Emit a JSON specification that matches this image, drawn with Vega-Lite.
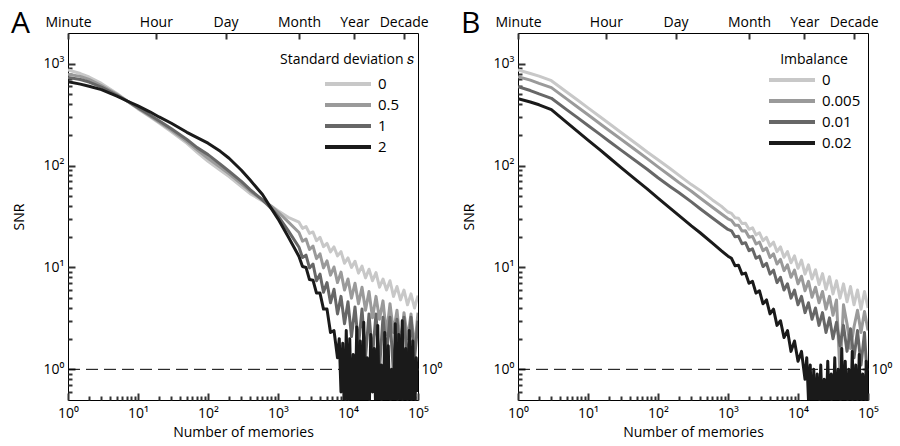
{
"$schema": "https://vega.github.io/schema/vega-lite/v6.json",
"padding": {"left": 10, "top": 8, "right": 5, "bottom": 5},
"spacing": 100,
"bounds": "flush",
"config": {
 "font": "Open Sans",
 "view": {"stroke": "#000", "strokeWidth": 1},
 "axis": {"domain": false, "grid": false, "labelFont": "Open Sans", "labelFontSize": 14, "labelColor": "#000", "titleFont": "Open Sans", "titleFontSize": 14, "titleFontWeight": "normal", "titleColor": "#000"},
 "legend": {"labelFont": "Open Sans", "labelFontSize": 15, "titleFont": "Open Sans", "titleFontSize": 14, "titleFontWeight": "normal", "labelColor": "#000", "titleColor": "#000", "symbolType": "stroke", "symbolStrokeWidth": 4, "symbolSize": 2116, "rowPadding": 3, "clipHeight": 18, "labelOffset": 5},
 "title": {"font": "Open Sans", "fontSize": 30, "fontWeight": "normal", "color": "#000"}
},
"resolve": {"scale": {"color": "independent"}, "legend": {"color": "independent"}},
"datasets": {
"A": [
{"s":"0","n":1,"snr":870},{"s":"0","n":1.5,"snr":800},{"s":"0","n":2,"snr":740},{"s":"0","n":3,"snr":640},{"s":"0","n":5,"snr":510},{"s":"0","n":7,"snr":430},{"s":"0","n":10,"snr":360},{"s":"0","n":15,"snr":300},{"s":"0","n":20,"snr":262},{"s":"0","n":30,"snr":215},{"s":"0","n":50,"snr":165},{"s":"0","n":70,"snr":135},{"s":"0","n":100,"snr":110},{"s":"0","n":150,"snr":90},{"s":"0","n":200,"snr":78},{"s":"0","n":300,"snr":62},{"s":"0","n":400,"snr":53},{"s":"0","n":600,"snr":45},{"s":"0","n":800,"snr":40},{"s":"0","n":1000,"snr":36},{"s":"0","n":1400,"snr":31},
{"s":"0","n":1995,"snr":27.8},{"s":"0","n":2239,"snr":24.2},{"s":"0","n":2512,"snr":25.2},{"s":"0","n":2818,"snr":21.6},{"s":"0","n":3162,"snr":22.3},{"s":"0","n":3548,"snr":18.3},{"s":"0","n":3981,"snr":19.8},{"s":"0","n":4467,"snr":16.0},{"s":"0","n":5012,"snr":17.2},{"s":"0","n":5623,"snr":14.2},{"s":"0","n":6310,"snr":15.9},{"s":"0","n":7079,"snr":13.0},{"s":"0","n":7943,"snr":14.3},{"s":"0","n":8913,"snr":11.0},{"s":"0","n":10000,"snr":12.4},{"s":"0","n":11220,"snr":10.0},{"s":"0","n":12589,"snr":11.5},{"s":"0","n":14125,"snr":8.8},{"s":"0","n":15849,"snr":10.3},{"s":"0","n":17783,"snr":7.9},{"s":"0","n":19953,"snr":9.6},{"s":"0","n":22387,"snr":7.4},{"s":"0","n":25119,"snr":8.9},{"s":"0","n":28184,"snr":6.4},{"s":"0","n":31623,"snr":7.7},{"s":"0","n":35481,"snr":6.0},{"s":"0","n":39811,"snr":7.4},{"s":"0","n":44668,"snr":5.2},{"s":"0","n":50119,"snr":6.5},{"s":"0","n":56234,"snr":4.8},{"s":"0","n":63096,"snr":6.0},{"s":"0","n":70795,"snr":4.3},{"s":"0","n":79433,"snr":5.5},{"s":"0","n":89125,"snr":4.0},{"s":"0","n":100000,"snr":5.3},
{"s":"0.5","n":1,"snr":790},{"s":"0.5","n":1.5,"snr":750},{"s":"0.5","n":2,"snr":700},{"s":"0.5","n":3,"snr":610},{"s":"0.5","n":5,"snr":500},{"s":"0.5","n":7,"snr":430},{"s":"0.5","n":10,"snr":365},{"s":"0.5","n":15,"snr":305},{"s":"0.5","n":20,"snr":268},{"s":"0.5","n":30,"snr":222},{"s":"0.5","n":50,"snr":172},{"s":"0.5","n":70,"snr":143},{"s":"0.5","n":100,"snr":118},{"s":"0.5","n":150,"snr":96},{"s":"0.5","n":200,"snr":83},{"s":"0.5","n":300,"snr":66},{"s":"0.5","n":400,"snr":56},{"s":"0.5","n":600,"snr":46},{"s":"0.5","n":800,"snr":40},{"s":"0.5","n":1000,"snr":35},{"s":"0.5","n":1400,"snr":28},
{"s":"0.5","n":1995,"snr":22},{"s":"0.5","n":2239,"snr":18.1},{"s":"0.5","n":2512,"snr":19.0},{"s":"0.5","n":2818,"snr":15.0},{"s":"0.5","n":3162,"snr":16.2},{"s":"0.5","n":3548,"snr":12.2},{"s":"0.5","n":3981,"snr":13.6},{"s":"0.5","n":4467,"snr":9.9},{"s":"0.5","n":5012,"snr":11.6},{"s":"0.5","n":5623,"snr":8.4},{"s":"0.5","n":6310,"snr":10.1},{"s":"0.5","n":7079,"snr":7.1},{"s":"0.5","n":7943,"snr":9.0},{"s":"0.5","n":8913,"snr":6.0},{"s":"0.5","n":10000,"snr":7.7},{"s":"0.5","n":11220,"snr":5.0},{"s":"0.5","n":12589,"snr":7.0},{"s":"0.5","n":14125,"snr":4.4},{"s":"0.5","n":15849,"snr":6.4},{"s":"0.5","n":17783,"snr":3.8},{"s":"0.5","n":19953,"snr":5.8},{"s":"0.5","n":22387,"snr":3.2},{"s":"0.5","n":25119,"snr":5.2},{"s":"0.5","n":28184,"snr":3.1},{"s":"0.5","n":31623,"snr":4.7},{"s":"0.5","n":35481,"snr":2.2},{"s":"0.5","n":39811,"snr":4.4},{"s":"0.5","n":44668,"snr":2.3},{"s":"0.5","n":50119,"snr":3.8},{"s":"0.5","n":56234,"snr":1.65},{"s":"0.5","n":63096,"snr":3.6},{"s":"0.5","n":70795,"snr":2.0},{"s":"0.5","n":79433,"snr":3.5},{"s":"0.5","n":89125,"snr":1.6},{"s":"0.5","n":100000,"snr":3.6},
{"s":"1","n":1,"snr":730},{"s":"1","n":1.5,"snr":700},{"s":"1","n":2,"snr":660},{"s":"1","n":3,"snr":590},{"s":"1","n":5,"snr":490},{"s":"1","n":7,"snr":430},{"s":"1","n":10,"snr":370},{"s":"1","n":15,"snr":312},{"s":"1","n":20,"snr":275},{"s":"1","n":30,"snr":230},{"s":"1","n":50,"snr":180},{"s":"1","n":70,"snr":150},{"s":"1","n":100,"snr":128},{"s":"1","n":150,"snr":103},{"s":"1","n":200,"snr":88},{"s":"1","n":300,"snr":70},{"s":"1","n":400,"snr":58},{"s":"1","n":600,"snr":46},{"s":"1","n":800,"snr":38},{"s":"1","n":1000,"snr":32},{"s":"1","n":1400,"snr":23},
{"s":"1","n":1995,"snr":15.8},{"s":"1","n":2239,"snr":12.5},{"s":"1","n":2512,"snr":13.2},{"s":"1","n":2818,"snr":9.9},{"s":"1","n":3162,"snr":10.8},{"s":"1","n":3548,"snr":7.4},{"s":"1","n":3981,"snr":8.6},{"s":"1","n":4467,"snr":5.7},{"s":"1","n":5012,"snr":7.1},{"s":"1","n":5623,"snr":4.5},{"s":"1","n":6310,"snr":6.1},{"s":"1","n":7079,"snr":3.5},{"s":"1","n":7943,"snr":5.2},{"s":"1","n":8913,"snr":2.8},{"s":"1","n":10000,"snr":4.6},{"s":"1","n":11220,"snr":2.1},{"s":"1","n":12589,"snr":4.1},{"s":"1","n":14125,"snr":1.7},{"s":"1","n":15849,"snr":3.9},{"s":"1","n":17783,"snr":1.3},{"s":"1","n":19953,"snr":3.5},{"s":"1","n":22387,"snr":1.35},{"s":"1","n":25119,"snr":3.5},{"s":"1","n":28184,"snr":1.0},{"s":"1","n":31623,"snr":3.25},{"s":"1","n":35481,"snr":1.4},{"s":"1","n":39811,"snr":3.25},{"s":"1","n":44668,"snr":0.9},{"s":"1","n":50119,"snr":3.1},{"s":"1","n":56234,"snr":1.25},{"s":"1","n":63096,"snr":3.25},{"s":"1","n":70795,"snr":1.1},{"s":"1","n":79433,"snr":3.25},{"s":"1","n":89125,"snr":1.25},{"s":"1","n":100000,"snr":3.0},
{"s":"2","n":1,"snr":666},{"s":"2","n":1.5,"snr":630},{"s":"2","n":2,"snr":600},{"s":"2","n":3,"snr":556},{"s":"2","n":5,"snr":480},{"s":"2","n":7,"snr":430},{"s":"2","n":10,"snr":385},{"s":"2","n":15,"snr":335},{"s":"2","n":20,"snr":300},{"s":"2","n":30,"snr":260},{"s":"2","n":50,"snr":212},{"s":"2","n":70,"snr":188},{"s":"2","n":100,"snr":166},{"s":"2","n":150,"snr":138},{"s":"2","n":200,"snr":118},{"s":"2","n":300,"snr":90},{"s":"2","n":400,"snr":72},{"s":"2","n":600,"snr":52},{"s":"2","n":800,"snr":38},{"s":"2","n":1000,"snr":30},{"s":"2","n":1400,"snr":20},
{"s":"2","n":1995,"snr":12.8},{"s":"2","n":2239,"snr":10.2},{"s":"2","n":2512,"snr":10.0},{"s":"2","n":2818,"snr":7.6},{"s":"2","n":3162,"snr":7.5},{"s":"2","n":3548,"snr":5.6},{"s":"2","n":3981,"snr":5.6},{"s":"2","n":4467,"snr":3.9},{"s":"2","n":5012,"snr":3.9},{"s":"2","n":5623,"snr":2.3},{"s":"2","n":6310,"snr":2.4},
{"s":"2","n":7079,"snr":1.3},{"s":"2","n":7499,"snr":2.0},{"s":"2","n":7943,"snr":0.6},{"s":"2","n":8414,"snr":1.8},{"s":"2","n":8913,"snr":0.3},{"s":"2","n":9441,"snr":2.4},{"s":"2","n":10000,"snr":0.5},{"s":"2","n":10593,"snr":2.0},{"s":"2","n":11220,"snr":0.3},{"s":"2","n":11885,"snr":1.4},{"s":"2","n":12589,"snr":0.3},{"s":"2","n":13335,"snr":2.6},{"s":"2","n":14125,"snr":0.4},{"s":"2","n":14962,"snr":1.9},{"s":"2","n":15849,"snr":0.3},{"s":"2","n":16788,"snr":2.9},{"s":"2","n":17783,"snr":0.3},{"s":"2","n":18836,"snr":1.3},{"s":"2","n":19953,"snr":0.3},{"s":"2","n":21135,"snr":2.2},{"s":"2","n":22387,"snr":0.6},{"s":"2","n":23714,"snr":1.6},{"s":"2","n":25119,"snr":0.3},{"s":"2","n":26607,"snr":2.7},{"s":"2","n":28184,"snr":0.3},{"s":"2","n":29854,"snr":1.1},{"s":"2","n":31623,"snr":0.3},{"s":"2","n":33497,"snr":2.3},{"s":"2","n":35481,"snr":0.4},{"s":"2","n":37584,"snr":1.7},{"s":"2","n":39811,"snr":0.3},{"s":"2","n":42170,"snr":1.0},{"s":"2","n":44668,"snr":0.3},{"s":"2","n":47315,"snr":2.8},{"s":"2","n":50119,"snr":0.3},{"s":"2","n":53088,"snr":2.2},{"s":"2","n":56234,"snr":0.5},{"s":"2","n":59566,"snr":3.0},{"s":"2","n":63096,"snr":0.3},{"s":"2","n":66834,"snr":1.6},{"s":"2","n":70795,"snr":0.3},{"s":"2","n":74989,"snr":2.4},{"s":"2","n":79433,"snr":0.4},{"s":"2","n":84140,"snr":1.9},{"s":"2","n":89125,"snr":0.3},{"s":"2","n":94406,"snr":1.3},{"s":"2","n":100000,"snr":0.6}
],
"B": [
{"s":"0","n":1,"snr":870},{"s":"0","n":1.5,"snr":800},{"s":"0","n":2,"snr":755},{"s":"0","n":3,"snr":681},{"s":"0","n":5,"snr":525},{"s":"0","n":7,"snr":442},{"s":"0","n":10,"snr":368},{"s":"0","n":15,"snr":300},{"s":"0","n":20,"snr":259},{"s":"0","n":30,"snr":210},{"s":"0","n":50,"snr":162},{"s":"0","n":70,"snr":136},{"s":"0","n":100,"snr":114},{"s":"0","n":150,"snr":93},{"s":"0","n":200,"snr":80},{"s":"0","n":300,"snr":65},{"s":"0","n":400,"snr":57},{"s":"0","n":600,"snr":46},{"s":"0","n":800,"snr":40},{"s":"0","n":1000,"snr":35},
{"s":"0","n":1122,"snr":33.9},{"s":"0","n":1259,"snr":30.7},{"s":"0","n":1413,"snr":30.4},{"s":"0","n":1585,"snr":27.0},{"s":"0","n":1778,"snr":27.2},{"s":"0","n":1995,"snr":23.7},{"s":"0","n":2239,"snr":24.5},{"s":"0","n":2512,"snr":20.9},{"s":"0","n":2818,"snr":21.9},{"s":"0","n":3162,"snr":18.3},{"s":"0","n":3548,"snr":19.7},{"s":"0","n":3981,"snr":16.2},{"s":"0","n":4467,"snr":17.7},{"s":"0","n":5012,"snr":14.3},{"s":"0","n":5623,"snr":15.9},{"s":"0","n":6310,"snr":12.6},{"s":"0","n":7079,"snr":14.3},{"s":"0","n":7943,"snr":11.1},{"s":"0","n":8913,"snr":13.0},{"s":"0","n":10000,"snr":9.8},{"s":"0","n":11220,"snr":11.8},{"s":"0","n":12589,"snr":8.6},{"s":"0","n":14125,"snr":10.6},{"s":"0","n":15849,"snr":7.7},{"s":"0","n":17783,"snr":9.5},{"s":"0","n":19953,"snr":6.8},{"s":"0","n":22387,"snr":8.7},{"s":"0","n":25119,"snr":6.1},{"s":"0","n":28184,"snr":8.1},{"s":"0","n":31623,"snr":5.5},{"s":"0","n":35481,"snr":7.4},{"s":"0","n":39811,"snr":5.0},{"s":"0","n":44668,"snr":6.9},{"s":"0","n":50119,"snr":4.6},{"s":"0","n":56234,"snr":6.5},{"s":"0","n":63096,"snr":4.3},{"s":"0","n":70795,"snr":6.0},{"s":"0","n":79433,"snr":3.9},{"s":"0","n":89125,"snr":5.8},{"s":"0","n":100000,"snr":4.0},
{"s":"0.005","n":1,"snr":746},{"s":"0.005","n":1.5,"snr":690},{"s":"0.005","n":2,"snr":640},{"s":"0.005","n":3,"snr":582},{"s":"0.005","n":5,"snr":449},{"s":"0.005","n":7,"snr":378},{"s":"0.005","n":10,"snr":315},{"s":"0.005","n":15,"snr":256},{"s":"0.005","n":20,"snr":221},{"s":"0.005","n":30,"snr":180},{"s":"0.005","n":50,"snr":139},{"s":"0.005","n":70,"snr":117},{"s":"0.005","n":100,"snr":97},{"s":"0.005","n":150,"snr":79},{"s":"0.005","n":200,"snr":68},{"s":"0.005","n":300,"snr":56},{"s":"0.005","n":400,"snr":48},{"s":"0.005","n":600,"snr":39},{"s":"0.005","n":800,"snr":33.6},{"s":"0.005","n":1000,"snr":30},
{"s":"0.005","n":1122,"snr":29.0},{"s":"0.005","n":1259,"snr":26.0},{"s":"0.005","n":1413,"snr":26.0},{"s":"0.005","n":1585,"snr":22.8},{"s":"0.005","n":1778,"snr":22.9},{"s":"0.005","n":1995,"snr":19.8},{"s":"0.005","n":2239,"snr":20.2},{"s":"0.005","n":2512,"snr":17.0},{"s":"0.005","n":2818,"snr":17.7},{"s":"0.005","n":3162,"snr":14.6},{"s":"0.005","n":3548,"snr":15.5},{"s":"0.005","n":3981,"snr":12.5},{"s":"0.005","n":4467,"snr":13.6},{"s":"0.005","n":5012,"snr":10.8},{"s":"0.005","n":5623,"snr":12.0},{"s":"0.005","n":6310,"snr":9.3},{"s":"0.005","n":7079,"snr":10.6},{"s":"0.005","n":7943,"snr":8.0},{"s":"0.005","n":8913,"snr":9.4},{"s":"0.005","n":10000,"snr":6.9},{"s":"0.005","n":11220,"snr":8.2},{"s":"0.005","n":12589,"snr":5.9},{"s":"0.005","n":14125,"snr":7.3},{"s":"0.005","n":15849,"snr":5.1},{"s":"0.005","n":17783,"snr":6.4},{"s":"0.005","n":19953,"snr":4.5},{"s":"0.005","n":22387,"snr":5.8},{"s":"0.005","n":25119,"snr":3.9},{"s":"0.005","n":28184,"snr":5.2},{"s":"0.005","n":31623,"snr":3.4},{"s":"0.005","n":35481,"snr":4.8},{"s":"0.005","n":39811,"snr":0.9},{"s":"0.005","n":44668,"snr":4.3},{"s":"0.005","n":50119,"snr":2.8},{"s":"0.005","n":56234,"snr":1.6},{"s":"0.005","n":63096,"snr":2.6},{"s":"0.005","n":70795,"snr":3.8},{"s":"0.005","n":79433,"snr":2.3},{"s":"0.005","n":89125,"snr":3.7},{"s":"0.005","n":100000,"snr":2.4},
{"s":"0.01","n":1,"snr":595},{"s":"0.01","n":1.5,"snr":545},{"s":"0.01","n":2,"snr":505},{"s":"0.01","n":3,"snr":457},{"s":"0.01","n":5,"snr":352},{"s":"0.01","n":7,"snr":297},{"s":"0.01","n":10,"snr":247},{"s":"0.01","n":15,"snr":201},{"s":"0.01","n":20,"snr":173},{"s":"0.01","n":30,"snr":141},{"s":"0.01","n":50,"snr":109},{"s":"0.01","n":70,"snr":92},{"s":"0.01","n":100,"snr":76},{"s":"0.01","n":150,"snr":62},{"s":"0.01","n":200,"snr":54},{"s":"0.01","n":300,"snr":44},{"s":"0.01","n":400,"snr":37.7},{"s":"0.01","n":600,"snr":30.6},{"s":"0.01","n":800,"snr":26.4},{"s":"0.01","n":1000,"snr":23.6},
{"s":"0.01","n":1122,"snr":22.9},{"s":"0.01","n":1259,"snr":20.0},{"s":"0.01","n":1413,"snr":20.2},{"s":"0.01","n":1585,"snr":17.1},{"s":"0.01","n":1778,"snr":17.5},{"s":"0.01","n":1995,"snr":14.6},{"s":"0.01","n":2239,"snr":15.2},{"s":"0.01","n":2512,"snr":12.3},{"s":"0.01","n":2818,"snr":12.9},{"s":"0.01","n":3162,"snr":10.2},{"s":"0.01","n":3548,"snr":11.0},{"s":"0.01","n":3981,"snr":8.6},{"s":"0.01","n":4467,"snr":9.4},{"s":"0.01","n":5012,"snr":7.1},{"s":"0.01","n":5623,"snr":8.0},{"s":"0.01","n":6310,"snr":6.0},{"s":"0.01","n":7079,"snr":6.9},{"s":"0.01","n":7943,"snr":5.0},{"s":"0.01","n":8913,"snr":6.0},{"s":"0.01","n":10000,"snr":4.3},{"s":"0.01","n":11220,"snr":5.2},{"s":"0.01","n":12589,"snr":3.6},{"s":"0.01","n":14125,"snr":4.5},{"s":"0.01","n":15849,"snr":3.1},{"s":"0.01","n":17783,"snr":4.0},{"s":"0.01","n":19953,"snr":2.7},{"s":"0.01","n":22387,"snr":3.6},{"s":"0.01","n":25119,"snr":2.3},{"s":"0.01","n":28184,"snr":3.2},{"s":"0.01","n":31623,"snr":2.0},{"s":"0.01","n":35481,"snr":2.9},{"s":"0.01","n":39811,"snr":1.7},{"s":"0.01","n":44668,"snr":2.7},{"s":"0.01","n":50119,"snr":1.5},{"s":"0.01","n":56234,"snr":2.5},{"s":"0.01","n":63096,"snr":1.3},{"s":"0.01","n":70795,"snr":2.4},{"s":"0.01","n":79433,"snr":1.1},{"s":"0.01","n":89125,"snr":2.3},{"s":"0.01","n":100000,"snr":0.6},
{"s":"0.02","n":1,"snr":454},{"s":"0.02","n":1.5,"snr":420},{"s":"0.02","n":2,"snr":395},{"s":"0.02","n":3,"snr":354},{"s":"0.02","n":5,"snr":264},{"s":"0.02","n":7,"snr":218},{"s":"0.02","n":10,"snr":178},{"s":"0.02","n":15,"snr":142},{"s":"0.02","n":20,"snr":120},{"s":"0.02","n":30,"snr":95},{"s":"0.02","n":50,"snr":71},{"s":"0.02","n":70,"snr":59},{"s":"0.02","n":100,"snr":48},{"s":"0.02","n":150,"snr":38},{"s":"0.02","n":200,"snr":32.3},{"s":"0.02","n":300,"snr":25.6},{"s":"0.02","n":400,"snr":21.9},{"s":"0.02","n":600,"snr":17.3},{"s":"0.02","n":800,"snr":14.6},{"s":"0.02","n":1000,"snr":12.9},
{"s":"0.02","n":1122,"snr":12.3},{"s":"0.02","n":1259,"snr":10.4},{"s":"0.02","n":1413,"snr":10.5},{"s":"0.02","n":1585,"snr":8.6},{"s":"0.02","n":1778,"snr":8.8},{"s":"0.02","n":1995,"snr":7.0},{"s":"0.02","n":2239,"snr":7.3},{"s":"0.02","n":2512,"snr":5.6},{"s":"0.02","n":2818,"snr":5.9},{"s":"0.02","n":3162,"snr":4.4},{"s":"0.02","n":3548,"snr":4.8},{"s":"0.02","n":3981,"snr":3.5},{"s":"0.02","n":4467,"snr":3.9},{"s":"0.02","n":5012,"snr":2.7},{"s":"0.02","n":5623,"snr":3.0},{"s":"0.02","n":6310,"snr":2.05},{"s":"0.02","n":7079,"snr":2.4},{"s":"0.02","n":7943,"snr":1.5},{"s":"0.02","n":8913,"snr":1.9},{"s":"0.02","n":10000,"snr":1.2},{"s":"0.02","n":11220,"snr":1.5},
{"s":"0.02","n":12589,"snr":0.8},{"s":"0.02","n":13335,"snr":1.3},{"s":"0.02","n":14125,"snr":0.5},{"s":"0.02","n":14962,"snr":1.1},{"s":"0.02","n":15849,"snr":0.3},{"s":"0.02","n":16788,"snr":1.0},{"s":"0.02","n":17783,"snr":0.35},{"s":"0.02","n":18836,"snr":0.9},{"s":"0.02","n":19953,"snr":0.3},{"s":"0.02","n":21135,"snr":1.1},{"s":"0.02","n":22387,"snr":0.3},{"s":"0.02","n":23714,"snr":0.8},{"s":"0.02","n":25119,"snr":0.3},{"s":"0.02","n":26607,"snr":1.2},{"s":"0.02","n":28184,"snr":0.4},{"s":"0.02","n":29854,"snr":0.9},{"s":"0.02","n":31623,"snr":0.3},{"s":"0.02","n":33497,"snr":1.3},{"s":"0.02","n":35481,"snr":0.3},{"s":"0.02","n":37584,"snr":1.0},{"s":"0.02","n":39811,"snr":0.3},{"s":"0.02","n":42170,"snr":1.6},{"s":"0.02","n":44668,"snr":0.3},{"s":"0.02","n":47315,"snr":1.2},{"s":"0.02","n":50119,"snr":0.3},{"s":"0.02","n":53088,"snr":1.0},{"s":"0.02","n":56234,"snr":0.3},{"s":"0.02","n":59566,"snr":1.5},{"s":"0.02","n":63096,"snr":0.3},{"s":"0.02","n":66834,"snr":1.1},{"s":"0.02","n":70795,"snr":0.3},{"s":"0.02","n":74989,"snr":1.4},{"s":"0.02","n":79433,"snr":0.3},{"s":"0.02","n":84140,"snr":0.9},{"s":"0.02","n":89125,"snr":0.3},{"s":"0.02","n":94406,"snr":1.2},{"s":"0.02","n":100000,"snr":0.4}
]
},
"hconcat": [
{
 "width": 350, "height": 367,
 "title": {"text": "A", "anchor": "start", "frame": "group", "dx": -57, "dy": 28},
 "layer": [
  {
   "data": {"values": [{}]},
   "mark": {"type": "rule", "strokeDash": [12, 6], "strokeWidth": 1, "color": "#000"},
   "encoding": {
    "x": {"datum": 1, "type": "quantitative", "scale": {"type": "log", "domain": [1, 100000]},
      "axis": {"orient": "top", "title": null, "values": [1, 18, 178, 2000, 12300, 62400], "labelExpr": "datum.value == 1 ? 'Minute' : datum.value == 18 ? 'Hour' : datum.value == 178 ? 'Day' : datum.value == 2000 ? 'Month' : datum.value == 12300 ? 'Year' : 'Decade'", "ticks": true, "tickColor": "#333", "tickWidth": 2, "tickSize": 6, "offset": -6, "labelPadding": 4, "labelFlush": false, "labelOverlap": false}},
    "x2": {"datum": 100000},
    "y": {"datum": 1, "type": "quantitative", "scale": {"type": "log", "domain": [0.5, 2000]},
      "axis": {"orient": "right", "title": null, "values": [1], "labelExpr": "'10⁰'", "ticks": true, "tickColor": "#333", "tickWidth": 2, "tickSize": 6, "offset": -6, "labelPadding": 3}}
   }
  },
  {
   "data": {"name": "A"},
   "mark": {"type": "line", "strokeWidth": 3, "clip": true, "strokeJoin": "round"},
   "encoding": {
    "x": {"field": "n", "type": "quantitative", "scale": {"type": "log", "domain": [1, 100000]},
      "axis": {"orient": "bottom", "title": "Number of memories", "values": [1,10,100,1000,10000,100000],
        "labelExpr": "'10' + ['⁰','¹','²','³','⁴','⁵'][indexof([1,10,100,1000,10000,100000], datum.value)]",
        "ticks": true, "tickColor": "#333", "tickWidth": 2, "tickSize": 7, "offset": -7, "labelPadding": 6, "labelFlush": false, "labelOverlap": false, "titlePadding": 5}},
    "y": {"field": "snr", "type": "quantitative", "scale": {"type": "log", "domain": [0.5, 2000]},
      "axis": {"orient": "left", "title": "SNR", "values": [1,10,100,1000],
        "labelExpr": "'10' + ['⁰','¹','²','³'][indexof([1,10,100,1000], datum.value)]",
        "ticks": true, "tickColor": "#333", "tickWidth": 2, "tickSize": 7, "offset": -7, "labelPadding": 4, "labelOverlap": false, "titlePadding": 17}},
    "color": {"field": "s", "type": "nominal", "scale": {"domain": ["0", "0.5", "1", "2"], "range": ["#c8c8c8", "#9a9a9a", "#676767", "#1a1a1a"]},
      "legend": {"title": "Standard deviation 𝑠", "orient": "none", "legendX": 212, "legendY": 20, "symbolOffset": 43, "titlePadding": 8}}
   }
  },
  {
   "data": {"values": [{}]},
   "mark": {"type": "point", "opacity": 0},
   "encoding": {
    "x": {"datum": 1, "type": "quantitative", "scale": {"type": "log", "domain": [1, 100000]},
      "axis": {"orient": "bottom", "title": null, "labels": false, "ticks": true, "tickColor": "#333", "tickWidth": 2, "values": [2,3,4,5,6,7,8,9,20,30,40,50,60,70,80,90,200,300,400,500,600,700,800,900,2000,3000,4000,5000,6000,7000,8000,9000,20000,30000,40000,50000,60000,70000,80000,90000], "tickSize": 4, "offset": -4}},
    "y": {"datum": 1, "type": "quantitative", "scale": {"type": "log", "domain": [0.5, 2000]},
      "axis": {"orient": "left", "title": null, "labels": false, "ticks": true, "tickColor": "#333", "tickWidth": 2, "values": [0.6,0.7,0.8,0.9,2,3,4,5,6,7,8,9,20,30,40,50,60,70,80,90,200,300,400,500,600,700,800,900], "tickSize": 4, "offset": -4}}
   }
  }
 ],
 "resolve": {"scale": {"x": "independent", "y": "independent"}, "axis": {"x": "independent", "y": "independent"}}
},
{
 "width": 350, "height": 367,
 "title": {"text": "B", "anchor": "start", "frame": "group", "dx": -57, "dy": 28},
 "layer": [
  {
   "data": {"values": [{}]},
   "mark": {"type": "rule", "strokeDash": [12, 6], "strokeWidth": 1, "color": "#000"},
   "encoding": {
    "x": {"datum": 1, "type": "quantitative", "scale": {"type": "log", "domain": [1, 100000]},
      "axis": {"orient": "top", "title": null, "values": [1, 18, 178, 2000, 12300, 62400], "labelExpr": "datum.value == 1 ? 'Minute' : datum.value == 18 ? 'Hour' : datum.value == 178 ? 'Day' : datum.value == 2000 ? 'Month' : datum.value == 12300 ? 'Year' : 'Decade'", "ticks": true, "tickColor": "#333", "tickWidth": 2, "tickSize": 6, "offset": -6, "labelPadding": 4, "labelFlush": false, "labelOverlap": false}},
    "x2": {"datum": 100000},
    "y": {"datum": 1, "type": "quantitative", "scale": {"type": "log", "domain": [0.5, 2000]},
      "axis": {"orient": "right", "title": null, "values": [1], "labelExpr": "'10⁰'", "ticks": true, "tickColor": "#333", "tickWidth": 2, "tickSize": 6, "offset": -6, "labelPadding": 3}}
   }
  },
  {
   "data": {"name": "B"},
   "mark": {"type": "line", "strokeWidth": 3, "clip": true, "strokeJoin": "round"},
   "encoding": {
    "x": {"field": "n", "type": "quantitative", "scale": {"type": "log", "domain": [1, 100000]},
      "axis": {"orient": "bottom", "title": "Number of memories", "values": [1,10,100,1000,10000,100000],
        "labelExpr": "'10' + ['⁰','¹','²','³','⁴','⁵'][indexof([1,10,100,1000,10000,100000], datum.value)]",
        "ticks": true, "tickColor": "#333", "tickWidth": 2, "tickSize": 7, "offset": -7, "labelPadding": 6, "labelFlush": false, "labelOverlap": false, "titlePadding": 5}},
    "y": {"field": "snr", "type": "quantitative", "scale": {"type": "log", "domain": [0.5, 2000]},
      "axis": {"orient": "left", "title": "SNR", "values": [1,10,100,1000],
        "labelExpr": "'10' + ['⁰','¹','²','³'][indexof([1,10,100,1000], datum.value)]",
        "ticks": true, "tickColor": "#333", "tickWidth": 2, "tickSize": 7, "offset": -7, "labelPadding": 4, "labelOverlap": false, "titlePadding": 17}},
    "color": {"field": "s", "type": "nominal", "scale": {"domain": ["0", "0.005", "0.01", "0.02"], "range": ["#c8c8c8", "#9a9a9a", "#676767", "#1a1a1a"]},
      "legend": {"title": "Imbalance", "orient": "none", "legendX": 249, "legendY": 20, "titleAnchor": "middle", "titlePadding": 4}}
   }
  },
  {
   "data": {"values": [{}]},
   "mark": {"type": "point", "opacity": 0},
   "encoding": {
    "x": {"datum": 1, "type": "quantitative", "scale": {"type": "log", "domain": [1, 100000]},
      "axis": {"orient": "bottom", "title": null, "labels": false, "ticks": true, "tickColor": "#333", "tickWidth": 2, "values": [2,3,4,5,6,7,8,9,20,30,40,50,60,70,80,90,200,300,400,500,600,700,800,900,2000,3000,4000,5000,6000,7000,8000,9000,20000,30000,40000,50000,60000,70000,80000,90000], "tickSize": 4, "offset": -4}},
    "y": {"datum": 1, "type": "quantitative", "scale": {"type": "log", "domain": [0.5, 2000]},
      "axis": {"orient": "left", "title": null, "labels": false, "ticks": true, "tickColor": "#333", "tickWidth": 2, "values": [0.6,0.7,0.8,0.9,2,3,4,5,6,7,8,9,20,30,40,50,60,70,80,90,200,300,400,500,600,700,800,900], "tickSize": 4, "offset": -4}}
   }
  }
 ],
 "resolve": {"scale": {"x": "independent", "y": "independent"}, "axis": {"x": "independent", "y": "independent"}}
}
]
}
